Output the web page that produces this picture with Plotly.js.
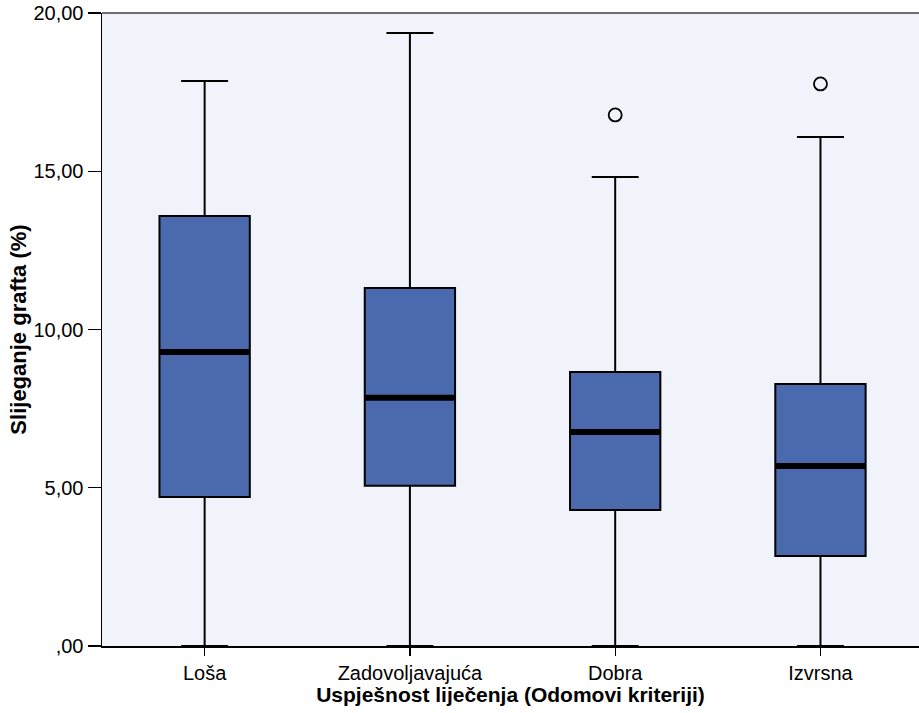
<!DOCTYPE html>
<html>
<head>
<meta charset="utf-8">
<script src="https://cdn.plot.ly/plotly-3.0.1.min.js"></script>
<style>html,body{margin:0;padding:0;background:#fff;}#chart{width:919px;height:713px;}</style>
</head>
<body>
<div id="chart"></div>
<script>
const categories = ['Loša', 'Zadovoljavajuća', 'Dobra', 'Izvrsna'];
const lowerWhisker = [0, 0, 0, 0];
const q1Values = [4.71, 5.06, 4.30, 2.84];
const medianValues = [9.29, 7.84, 6.76, 5.69];
const q3Values = [13.59, 11.31, 8.66, 8.28];
const upperWhisker = [17.85, 19.37, 14.82, 16.08];
const outlierCategories = ['Dobra', 'Izvrsna'];
const outlierValues = [16.78, 17.76];
const yTickValues = [0, 5, 10, 15, 20];
const yTickLabels = [',00', '5,00', '10,00', '15,00', '20,00'];

const font = 'Liberation Sans, Arial, sans-serif';

const traces = [
  {
    type: 'box',
    x: categories,
    q1: q1Values,
    median: medianValues,
    q3: q3Values,
    lowerfence: lowerWhisker,
    upperfence: upperWhisker,
    boxpoints: false,
    width: 0.44,
    whiskerwidth: 0.52,
    fillcolor: '#4b6aad',
    line: {color: '#000000', width: 2},
    hoverinfo: 'skip',
    showlegend: false
  },
  {
    type: 'scatter',
    mode: 'markers',
    x: categories,
    y: medianValues,
    marker: {symbol: 'line-ew', size: 65, color: '#000000', line: {color: '#000000', width: 6}},
    hoverinfo: 'skip',
    showlegend: false
  },
  {
    type: 'scatter',
    mode: 'markers',
    x: outlierCategories,
    y: outlierValues,
    marker: {symbol: 'circle-open', size: 13, color: '#000000', line: {color: '#000000', width: 1.8}},
    hoverinfo: 'skip',
    showlegend: false
  }
];

const layout = {
  width: 919,
  height: 713,
  margin: {l: 102, r: 0, t: 13, b: 67},
  paper_bgcolor: '#ffffff',
  plot_bgcolor: '#f0f4fa',
  font: {family: font, color: '#000000', size: 20},
  showlegend: false,
  xaxis: {
    type: 'category',
    categoryarray: categories,
    range: [-0.5, 3.48],
    showline: true,
    linecolor: '#000000',
    linewidth: 1.5,
    ticks: 'outside',
    ticklen: 8,
    tickwidth: 1.2,
    tickcolor: '#000000',
    showgrid: false,
    zeroline: false,
    tickfont: {family: font, size: 20, color: '#000000'},
    title: {text: 'Uspješnost liječenja (Odomovi kriteriji)', font: {family: font, size: 21, color: '#000000', weight: 'bold'}, standoff: 2}
  },
  yaxis: {
    range: [0, 20],
    tickvals: yTickValues,
    ticktext: yTickLabels,
    showline: true,
    linecolor: '#000000',
    linewidth: 1.5,
    ticks: 'outside',
    ticklen: 13,
    tickwidth: 1.2,
    tickcolor: '#000000',
    showgrid: false,
    zeroline: false,
    tickfont: {family: font, size: 20, color: '#000000'},
    title: {text: 'Slijeganje grafta (%)', font: {family: font, size: 22, color: '#000000', weight: 'bold'}, standoff: 0}
  },
  shapes: [
    {type: 'line', xref: 'paper', yref: 'paper', x0: 0, x1: 1, y0: 1, y1: 1, line: {color: '#6e6e6e', width: 2}}
  ]
};

Plotly.newPlot('chart', traces, layout, {displayModeBar: false, staticPlot: true});
</script>
</body>
</html>
